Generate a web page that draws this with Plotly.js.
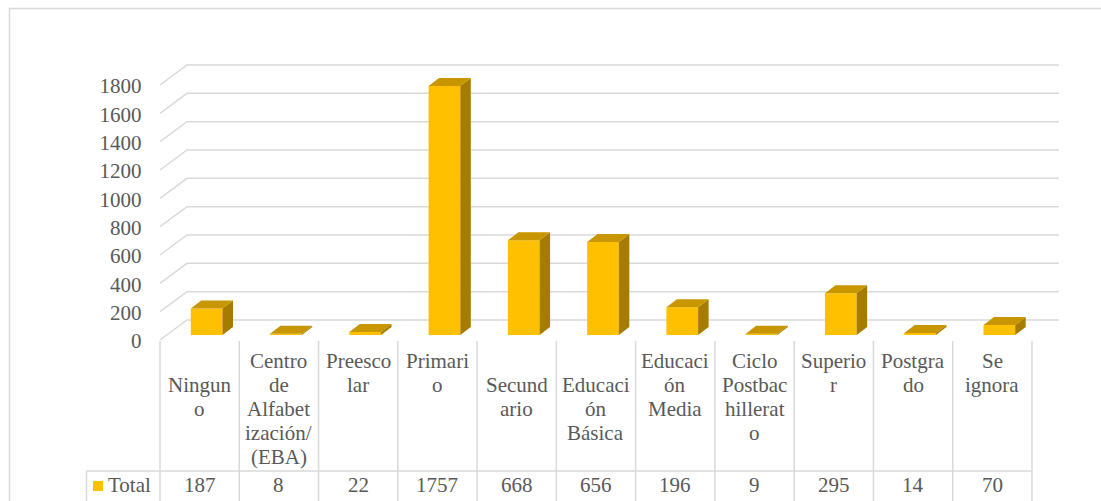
<!DOCTYPE html>
<html>
<head>
<meta charset="utf-8">
<script src="https://cdn.plot.ly/plotly-3.0.1.min.js"></script>
<style>html,body{margin:0;padding:0;background:#fff;}#chart{width:1101px;height:501px;}</style>
</head>
<body>
<div id="chart"></div>
<script>
// ---------- data ----------
const categories = [
  "\nNingun\no",
  "Centro\nde\nAlfabet\nización/\n(EBA)",
  "Preesco\nlar",
  "Primari\no",
  "\nSecund\nario",
  "\nEducaci\nón\nBásica",
  "Educaci\nón\nMedia",
  "Ciclo\nPostbac\nhillerat\no",
  "Superio\nr",
  "Postgra\ndo",
  "Se\nignora"
];
const totals = [187, 8, 22, 1757, 668, 656, 196, 9, 295, 14, 70];
const seriesName = "Total";
const yTicks = [0, 200, 400, 600, 800, 1000, 1200, 1400, 1600, 1800];

// ---------- layout geometry (pixels) ----------
const W = 1101, H = 501;
const COL = 79.27;      // px per category
const X0PX = 167;       // px of left edge of category band at bar front plane
const Y0PX = 335;       // px of value 0 at bar front plane
const S = 0.14167;      // px per unit
const dx = p => p / COL;
const dy = p => p / S;
const n = categories.length;
const xRange = [(0 - X0PX) / COL - 0.5, (W - X0PX) / COL - 0.5];
const yRange = [(Y0PX - H) / S, Y0PX / S];

const fx = dx(-7), fy = dy(-5);     // front floor plane offset
const bx = dx(20), by = dy(15);     // back wall offset
const ddx = dx(10.5), ddy = dy(8);  // bar depth
const BW = 0.4;                     // bar width (categories)

const FRONT = "#FFC000", SIDE = "#A67C00", TOP = "#C89600";
const GRID = "#D9D9D9", TXT = "#595959";
const FONT = "Liberation Serif";

// ---------- traces ----------
const xs = categories.map((_, i) => i);
const barTrace = {
  type: "bar", x: xs, y: totals, width: BW, name: seriesName,
  marker: {color: FRONT, line: {width: 0}}, hoverinfo: "skip", showlegend: false
};
const sideX = [], sideY = [], topX = [], topY = [];
totals.forEach((v, i) => {
  const r = i + BW / 2, l = i - BW / 2;
  sideX.push(r, r + ddx, r + ddx, r, r, null);
  sideY.push(0, ddy, v + ddy, v, 0, null);
  topX.push(l, r, r + ddx, l + ddx, l, null);
  topY.push(v, v, v + ddy, v + ddy, v, null);
});
const sideTrace = {type: "scatter", mode: "lines", x: sideX, y: sideY, fill: "toself",
  fillcolor: SIDE, line: {width: 0, color: SIDE}, hoverinfo: "skip", showlegend: false};
const topTrace = {type: "scatter", mode: "lines", x: topX, y: topY, fill: "toself",
  fillcolor: TOP, line: {width: 0, color: TOP}, hoverinfo: "skip", showlegend: false};

// ---------- shapes ----------
const shapes = [];
// 3D gridlines: side-wall diagonal + back-wall horizontal
yTicks.forEach(v => {
  shapes.push({type: "path", xref: "x", yref: "y", layer: "below",
    path: `M${-0.5 + fx},${v + fy} L${-0.5 + bx},${v + by} L${n - 0.5 + bx},${v + by}`,
    line: {color: GRID, width: 1.5}});
});
// data table
const pyp = p => 1 - p / H; // pixel row -> paper
for (let k = 0; k <= n; k++) {
  shapes.push({type: "line", xref: "x", yref: "paper", x0: k - 0.5 + fx, x1: k - 0.5 + fx,
    y0: pyp(341), y1: -0.05, line: {color: GRID, width: 1.5}});
}
shapes.push({type: "line", xref: "paper", yref: "paper", x0: 86.5 / W, x1: (160 + n * COL) / W,
  y0: pyp(471), y1: pyp(471), line: {color: GRID, width: 1.5}});
shapes.push({type: "line", xref: "paper", yref: "paper", x0: 86.5 / W, x1: 86.5 / W,
  y0: pyp(471), y1: -0.05, line: {color: GRID, width: 1.5}});
// legend key
shapes.push({type: "rect", xref: "paper", yref: "paper", x0: 93 / W, x1: 103 / W,
  y0: pyp(491), y1: pyp(481), fillcolor: FRONT, line: {width: 0}});
// chart border
shapes.push({type: "rect", xref: "paper", yref: "paper", x0: 9.5 / W, x1: 1.05,
  y0: -0.05, y1: pyp(8.5), fillcolor: "rgba(0,0,0,0)", line: {color: GRID, width: 1.5}});

// ---------- annotations ----------
const annotations = [];
const tfont = () => ({family: FONT, size: 21, color: TXT});
categories.forEach((c, i) => {
  c.split("\n").forEach((line, j) => {
    if (!line) return;
    annotations.push({xref: "x", yref: "paper", x: i + fx, y: pyp(360.6 + 24.1 * j),
      xanchor: "center", yanchor: "middle", text: line, showarrow: false, font: tfont()});
  });
});
totals.forEach((v, i) => {
  annotations.push({xref: "x", yref: "paper", x: i + fx, y: pyp(485.2),
    xanchor: "center", yanchor: "middle", text: String(v), showarrow: false, font: tfont()});
});
annotations.push({xref: "paper", yref: "paper", x: 106 / W, y: pyp(485.2),
  xanchor: "left", yanchor: "middle", text: seriesName, showarrow: false, font: tfont()});

const layout = {
  width: W, height: H,
  margin: {l: 0, r: 0, t: 0, b: 0, pad: 0},
  paper_bgcolor: "#fff", plot_bgcolor: "#fff",
  showlegend: false,
  font: {family: FONT, size: 21, color: TXT},
  xaxis: {range: xRange, visible: false, fixedrange: true},
  yaxis: {range: yRange, anchor: "free", position: 141.5 / W, tickvals: yTicks,
    showgrid: false, zeroline: false, showline: false, ticks: "",
    ticklabelshift: 6, tickfont: tfont(), fixedrange: true},
  shapes: shapes,
  annotations: annotations
};

Plotly.newPlot("chart", [barTrace, sideTrace, topTrace], layout, {displayModeBar: false, staticPlot: true});
</script>
</body>
</html>
